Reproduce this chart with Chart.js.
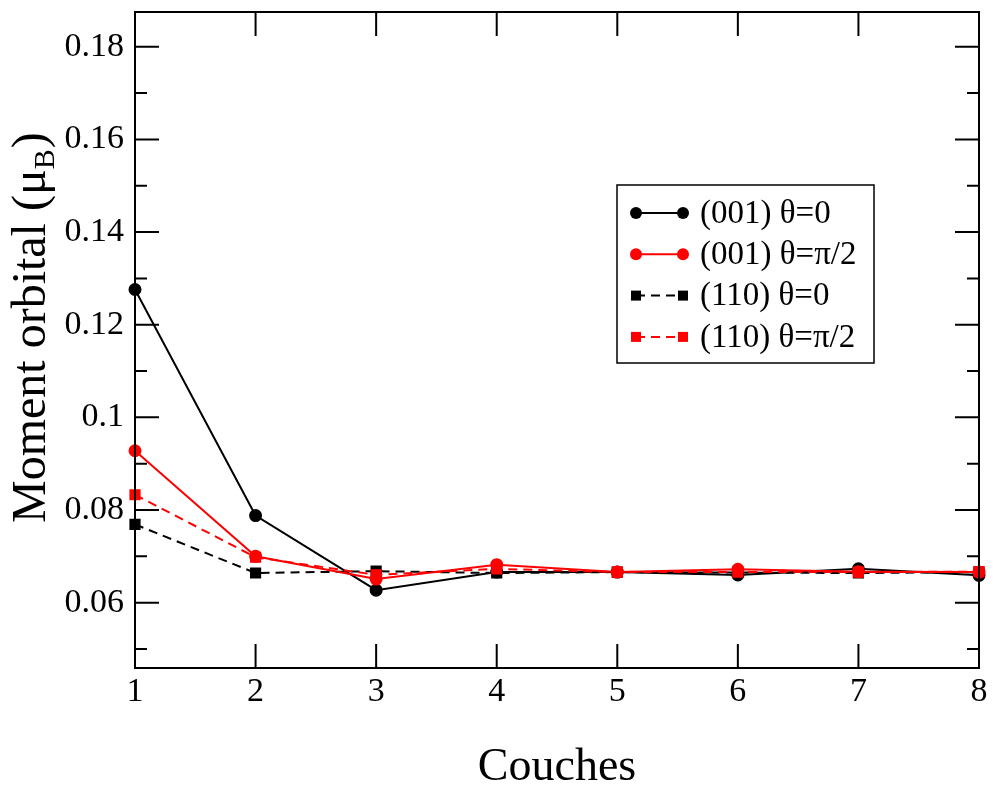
<!DOCTYPE html>
<html>
<head>
<meta charset="utf-8">
<script src="https://cdn.jsdelivr.net/npm/chart.js@4/dist/chart.umd.min.js"></script>
<style>
  body { margin: 0; background: #fff; }
  canvas { display: block; }
</style>
</head>
<body>
<canvas id="chart" width="993" height="786"></canvas>
<script>
// layers along the x axis
const layers = ['1', '2', '3', '4', '5', '6', '7', '8'];

// orbital moment (mu_B) per layer
const m001Theta0 = [0.1276, 0.0788, 0.0627, 0.0666, 0.0666, 0.0660, 0.0673, 0.0659];
const m001ThetaPi2 = [0.0928, 0.0700, 0.0651, 0.0682, 0.0666, 0.0672, 0.0667, 0.0666];
const m110Theta0 = [0.0769, 0.0664, 0.0668, 0.0664, 0.0666, 0.0665, 0.0664, 0.0666];
const m110ThetaPi2 = [0.0833, 0.0698, 0.0660, 0.0673, 0.0666, 0.0666, 0.0666, 0.0667];

const seriesLabels = ['(001) θ=0', '(001) θ=π/2', '(110) θ=0', '(110) θ=π/2'];

// y axis ticks
const yMajor = [0.06, 0.08, 0.10, 0.12, 0.14, 0.16, 0.18];
const yMinor = [0.05, 0.07, 0.09, 0.11, 0.13, 0.15, 0.17];

const FONT = "'Liberation Serif', 'Times New Roman', serif";

// draws the frame, inward ticks, axis titles and legend box
const framePlugin = {
  id: 'frame',
  afterDraw(chart) {
    const { ctx, chartArea: a, scales } = chart;
    ctx.save();
    ctx.strokeStyle = '#000';
    ctx.lineWidth = 2;
    ctx.setLineDash([]);
    ctx.beginPath();
    yMajor.forEach(v => {
      const py = scales.y.getPixelForValue(v);
      ctx.moveTo(a.left, py); ctx.lineTo(a.left + 24, py);
      ctx.moveTo(a.right, py); ctx.lineTo(a.right - 24, py);
    });
    yMinor.forEach(v => {
      const py = scales.y.getPixelForValue(v);
      ctx.moveTo(a.left, py); ctx.lineTo(a.left + 12, py);
      ctx.moveTo(a.right, py); ctx.lineTo(a.right - 12, py);
    });
    layers.forEach((l, i) => {
      const px = scales.x.getPixelForTick(i);
      ctx.moveTo(px, a.bottom); ctx.lineTo(px, a.bottom - 24);
      ctx.moveTo(px, a.top); ctx.lineTo(px, a.top + 24);
    });
    ctx.stroke();
    ctx.strokeRect(a.left, a.top, a.right - a.left, a.bottom - a.top);

    // axis titles
    ctx.fillStyle = '#000';
    ctx.font = '46px ' + FONT;
    ctx.textAlign = 'center';
    ctx.textBaseline = 'alphabetic';
    ctx.fillText('Couches', (a.left + a.right) / 2, 780);

    ctx.save();
    ctx.translate(45, 523);
    ctx.rotate(-Math.PI / 2);
    ctx.textAlign = 'left';
    ctx.font = '48px ' + FONT;
    const main = 'Moment orbital (μ';
    ctx.fillText(main, 0, 0);
    let w = ctx.measureText(main).width;
    ctx.font = '30px ' + FONT;
    ctx.fillText('B', w, 9);
    w += ctx.measureText('B').width;
    ctx.font = '48px ' + FONT;
    ctx.fillText(')', w + 1, 0);
    ctx.restore();

    // legend
    ctx.lineWidth = 1.5;
    ctx.strokeRect(617, 185, 257, 178);
    chart.data.datasets.forEach((ds, i) => {
      const y = 213 + i * 41.3;
      ctx.strokeStyle = ds.borderColor;
      ctx.fillStyle = ds.borderColor;
      ctx.lineWidth = 2;
      ctx.setLineDash(ds.borderDash || []);
      ctx.beginPath();
      ctx.moveTo(636, y); ctx.lineTo(683, y);
      ctx.stroke();
      ctx.setLineDash([]);
      [636, 683].forEach(x => {
        ctx.beginPath();
        if (ds.pointStyle === 'rect') {
          ctx.rect(x - 5, y - 5, 10, 10);
        } else {
          ctx.arc(x, y, 6, 0, Math.PI * 2);
        }
        ctx.fill();
      });
      ctx.fillStyle = '#000';
      ctx.font = '33px ' + FONT;
      ctx.textAlign = 'left';
      ctx.textBaseline = 'middle';
      ctx.fillText(ds.label, 700, y + 1);
    });
    ctx.restore();
  }
};

new Chart(document.getElementById('chart'), {
  type: 'line',
  data: {
    labels: layers,
    datasets: [
      { label: seriesLabels[0], data: m001Theta0, borderColor: '#000', backgroundColor: '#000',
        borderWidth: 2, pointStyle: 'circle', pointRadius: 5.5, order: 3 },
      { label: seriesLabels[1], data: m001ThetaPi2, borderColor: '#ff0000', backgroundColor: '#ff0000',
        borderWidth: 2, pointStyle: 'circle', pointRadius: 5.5, order: 1 },
      { label: seriesLabels[2], data: m110Theta0, borderColor: '#000', backgroundColor: '#000',
        borderWidth: 2, borderDash: [9, 6], pointStyle: 'rect', pointRadius: 6.5, order: 2 },
      { label: seriesLabels[3], data: m110ThetaPi2, borderColor: '#ff0000', backgroundColor: '#ff0000',
        borderWidth: 2, borderDash: [9, 6], pointStyle: 'rect', pointRadius: 6.5, order: 0 }
    ]
  },
  options: {
    responsive: false,
    animation: false,
    layout: { padding: { top: 12, right: 14, left: 0, bottom: 0 } },
    elements: { line: { tension: 0 }, point: { borderWidth: 0 } },
    plugins: { legend: { display: false }, tooltip: { enabled: false } },
    scales: {
      x: {
        type: 'category',
        offset: false,
        grid: { display: false, drawTicks: false, tickLength: 0 },
        border: { display: false },
        ticks: { color: '#000', font: { family: FONT, size: 34 }, padding: 4, maxRotation: 0 },
        afterFit(s) {
          s.height = 118;
          s.paddingLeft = 0;
          s.paddingRight = 0;
        }
      },
      y: {
        min: 0.0459,
        max: 0.1875,
        grid: { display: false, drawTicks: false, tickLength: 0 },
        border: { display: false },
        afterBuildTicks(s) { s.ticks = yMajor.map(v => ({ value: v })); },
        ticks: {
          color: '#000',
          font: { family: FONT, size: 34 },
          padding: 11,
          callback: v => String(+v.toFixed(2))
        },
        afterFit(s) {
          s.width = 135;
          s.paddingTop = 0;
          s.paddingBottom = 0;
        }
      }
    }
  },
  plugins: [framePlugin]
});
</script>
</body>
</html>
